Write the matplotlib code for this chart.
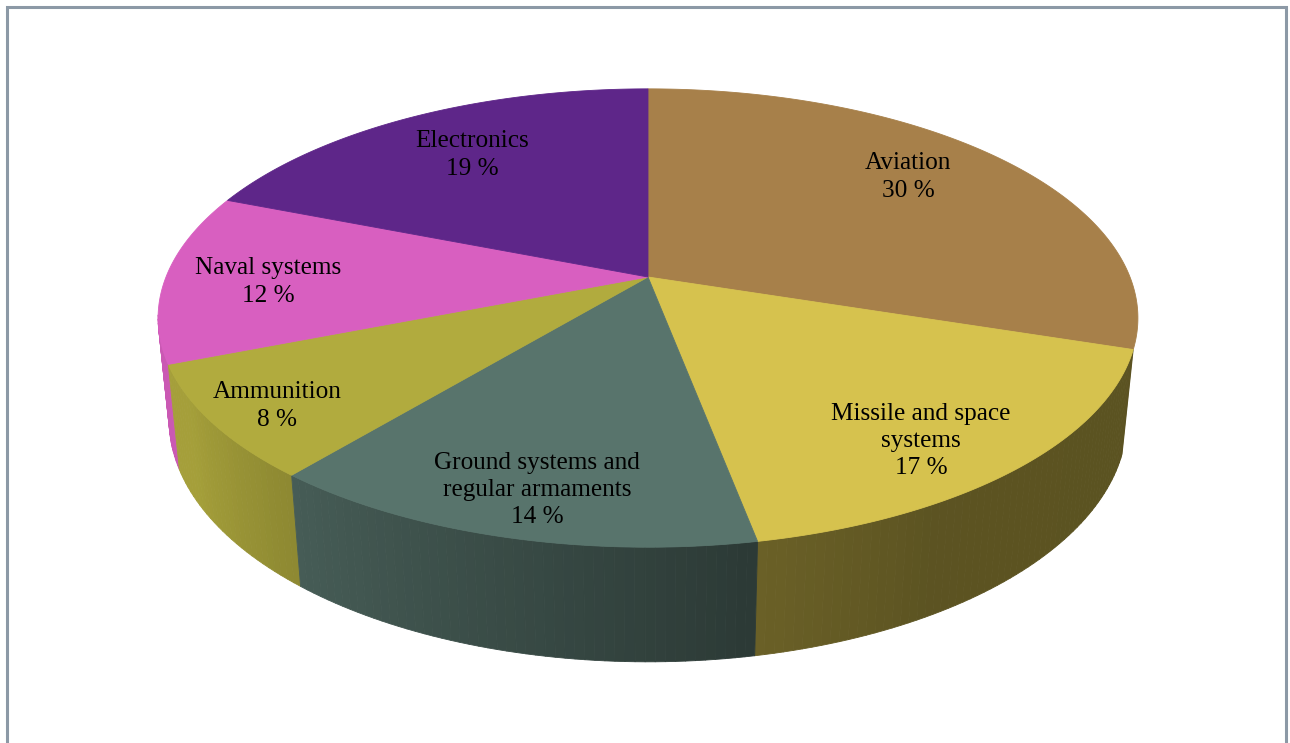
import numpy as np
import matplotlib.pyplot as plt
from matplotlib.collections import PolyCollection
from matplotlib.colors import to_rgb

# -------------------
# data
# -------------------
labels = ['Aviation', 'Missile and space\nsystems', 'Ground systems and\nregular armaments',
          'Ammunition', 'Naval systems', 'Electronics']
shares = [30, 17, 14, 8, 12, 19]
colors = ['#A7804A', '#D6C24E', '#58746C', '#B1AB3E', '#D85FC0', '#5E2689']

# label centres (pixels) as Excel placed them
label_xy = [(908, 177), (921, 441), (537, 490), (277, 406), (268, 282), (472, 155)]

# -------------------
# 3D pie geometry (pixel space)
# -------------------
CX, CY = 648, 277          # pie centre on screen
R = 482                    # radius in pixels
ALPHA = np.radians(27.4)   # elevation
F = 4.96                   # perspective distance (in radii)
H = 0.24                   # thickness (in radii)
sa, ca = np.sin(ALPHA), np.cos(ALPHA)


def project(x, y, z):
    v = y * sa + z * ca
    d = y * ca - z * sa
    s = F / (F + d)
    return CX + R * x * s, CY - R * v * s


def shade(phi_deg):
    # lighter on the left front, darker towards the right
    return np.interp(phi_deg, [-200, -150, -130, -80, -60, 20],
                     [0.95, 0.93, 0.80, 0.50, 0.43, 0.42])


fig = plt.figure(figsize=(12.9, 7.43), dpi=100)
ax = fig.add_axes([0, 0, 1, 1])
ax.set_xlim(0, 1290)
ax.set_ylim(743, 0)
ax.axis('off')

# slice angles: start at 12 o'clock, clockwise
fr = np.array(shares, dtype=float) / sum(shares)
edges = 90 - 360 * np.concatenate([[0], np.cumsum(fr)])

# side strips (front half), drawn back to front
strips, strip_cols, depth = [], [], []
for i in range(len(shares)):
    a0, a1 = edges[i], edges[i + 1]   # a0 > a1
    n = max(int(abs(a0 - a1)), 2)
    ph = np.linspace(a0, a1, n + 1)
    for p0, p1 in zip(ph[:-1], ph[1:]):
        pm = 0.5 * (p0 + p1)
        pm_w = (pm + 180) % 360 - 180
        if not (-170 < pm_w < -17.8):
            continue
        r0, r1 = np.radians(p0), np.radians(p1)
        pts = [project(np.cos(r0), np.sin(r0), 0), project(np.cos(r1), np.sin(r1), 0),
               project(np.cos(r1), np.sin(r1), -H), project(np.cos(r0), np.sin(r0), -H)]
        strips.append(pts)
        strip_cols.append(np.array(to_rgb(colors[i])) * shade(pm_w))
        depth.append(np.sin(np.radians(pm)))
order = np.argsort(depth)[::-1]
ax.add_collection(PolyCollection([strips[k] for k in order],
                                 facecolors=[strip_cols[k] for k in order],
                                 edgecolors=[strip_cols[k] for k in order],
                                 linewidths=0.6))

# top faces
for i in range(len(shares)):
    ph = np.radians(np.linspace(edges[i], edges[i + 1], 200))
    xs, ys = project(np.cos(ph), np.sin(ph), 0)
    px = np.concatenate([[CX], xs])
    py = np.concatenate([[CY], ys])
    ax.fill(px, py, color=colors[i], linewidth=0.6, edgecolor=colors[i])

# data labels
for lab, s, (lx, ly) in zip(labels, shares, label_xy):
    ax.text(lx, ly, f'{lab}\n{s} %', ha='center', va='center', fontsize=18.2,
            family='Liberation Serif', linespacing=1.32, color='black')

# chart frame
ax.plot([7, 7, 1286, 1286], [760, 7, 7, 760], color='#8C99A6', lw=2.2,
        solid_joinstyle='miter')

plt.savefig('out.png', dpi=100)
